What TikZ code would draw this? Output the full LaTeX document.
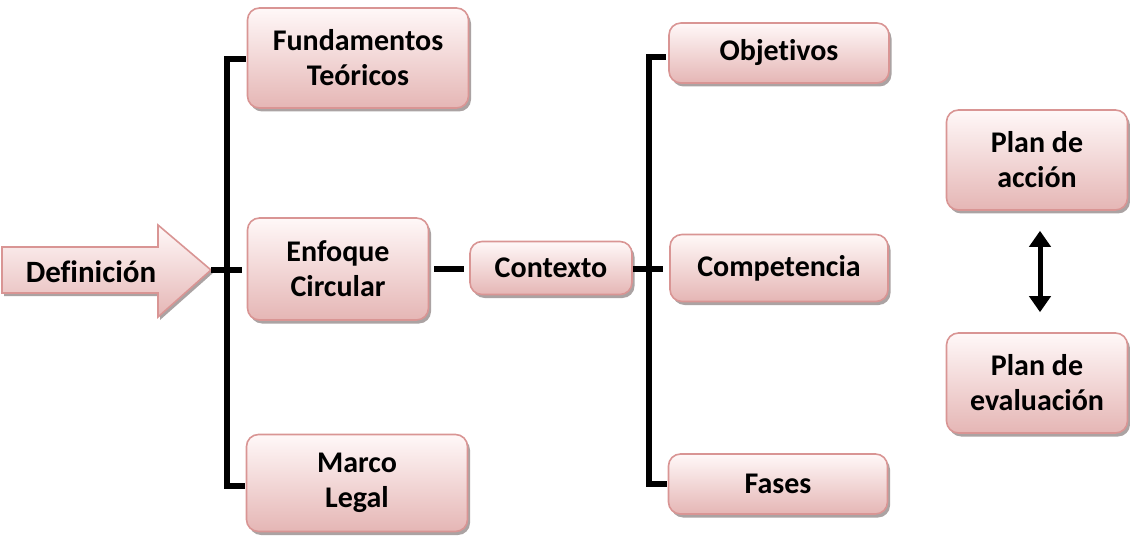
\documentclass[tikz,border=0pt]{standalone}
\usepackage{fontspec}
\setmainfont[Ligatures={NoCommon}]{Carlito}
\usetikzlibrary{shadows,arrows.meta}
\definecolor{boxtop}{HTML}{FFF8F8}
\definecolor{boxbot}{HTML}{E5B6B5}
\definecolor{boxline}{HTML}{D99594}
\definecolor{shadowc}{HTML}{ABA3A3}
\tikzset{
  box/.style={rectangle, rounded corners=12pt, draw=boxline, line width=1.6pt,
    top color=boxtop, bottom color=boxbot, align=center, inner sep=0pt,
    font=\fontsize{30}{35}\selectfont\bfseries,
    drop shadow={shadow xshift=2.5pt, shadow yshift=-3.5pt, fill=shadowc, opacity=1}},
  conn/.style={line width=6pt, black},
  bracket/.style={line width=6pt, black, line cap=rect},
  dbl/.style={line width=5pt, black, {Triangle[width=21pt,length=16pt]}-{Triangle[width=21pt,length=16pt]}}
}
\begin{document}
\begin{tikzpicture}[x=1pt,y=-1pt]
\useasboundingbox (0,0) rectangle (1130,540);
% Definicion arrow
\fill[shadowc] (4,250) -- (160,250) -- (160,228) -- (213,273) -- (160,320) -- (160,296) -- (4,296) -- cycle;
\shade[top color=boxtop, bottom color=boxbot, draw=boxline, line width=1.6pt]
  (2,247) -- (158,247) -- (158,225) -- (211,270) -- (158,317) -- (158,293) -- (2,293) -- cycle;
\node[font=\fontsize{31}{35}\selectfont\bfseries, inner sep=0pt] (def) at (91,272) {Definición};
\coordinate (tip) at (211,270);

% boxes
\node[box, minimum width=221pt, minimum height=100pt] (fund) at (358,58) {Fundamentos\\Teóricos};
\node[box, minimum width=181pt, minimum height=102pt] (enf) at (338,269) {Enfoque\\Circular};
\node[box, minimum width=221pt, minimum height=97pt] (marco) at (357,483) {Marco\\Legal};
\node[box, minimum width=162pt, minimum height=53pt] (ctx) at (551,268) {Contexto};
\node[box, minimum width=220pt, minimum height=60pt] (obj) at (779,53) {Objetivos};
\node[box, minimum width=218pt, minimum height=67pt] (comp) at (779,268) {Competencia};
\node[box, minimum width=219pt, minimum height=60pt] (fases) at (778,484) {Fases};
\node[box, minimum width=181pt, minimum height=100pt] (plana) at (1037,160) {Plan de\\acción};
\node[box, minimum width=181pt, minimum height=100pt] (plane) at (1037,383) {Plan de\\evaluación};

% left bracket
\draw[bracket] (fund.west |- 0,59) ++(-4,0) -| (227,486) -- ([xshift=-4pt]marco.west |- 0,486);
\draw[conn] (tip) -- ([xshift=-5pt]enf.west |- tip);
% enf - ctx
\draw[conn] ([xshift=5pt]enf.east |- 0,269) -- ([xshift=-5pt]ctx.west |- 0,269);
% right bracket
\draw[bracket] ([xshift=-5pt]obj.west |- 0,57) -| (649,484) -- ([xshift=-4pt]fases.west |- 0,484);
\draw[conn] (ctx.east |- 0,269) -- ([xshift=-6pt]comp.west |- 0,269);
% double arrow
\draw[dbl, shorten <=20pt, shorten >=20pt] (plana.south -| 1040,0) -- (plane.north -| 1040,0);
\end{tikzpicture}
\end{document}
